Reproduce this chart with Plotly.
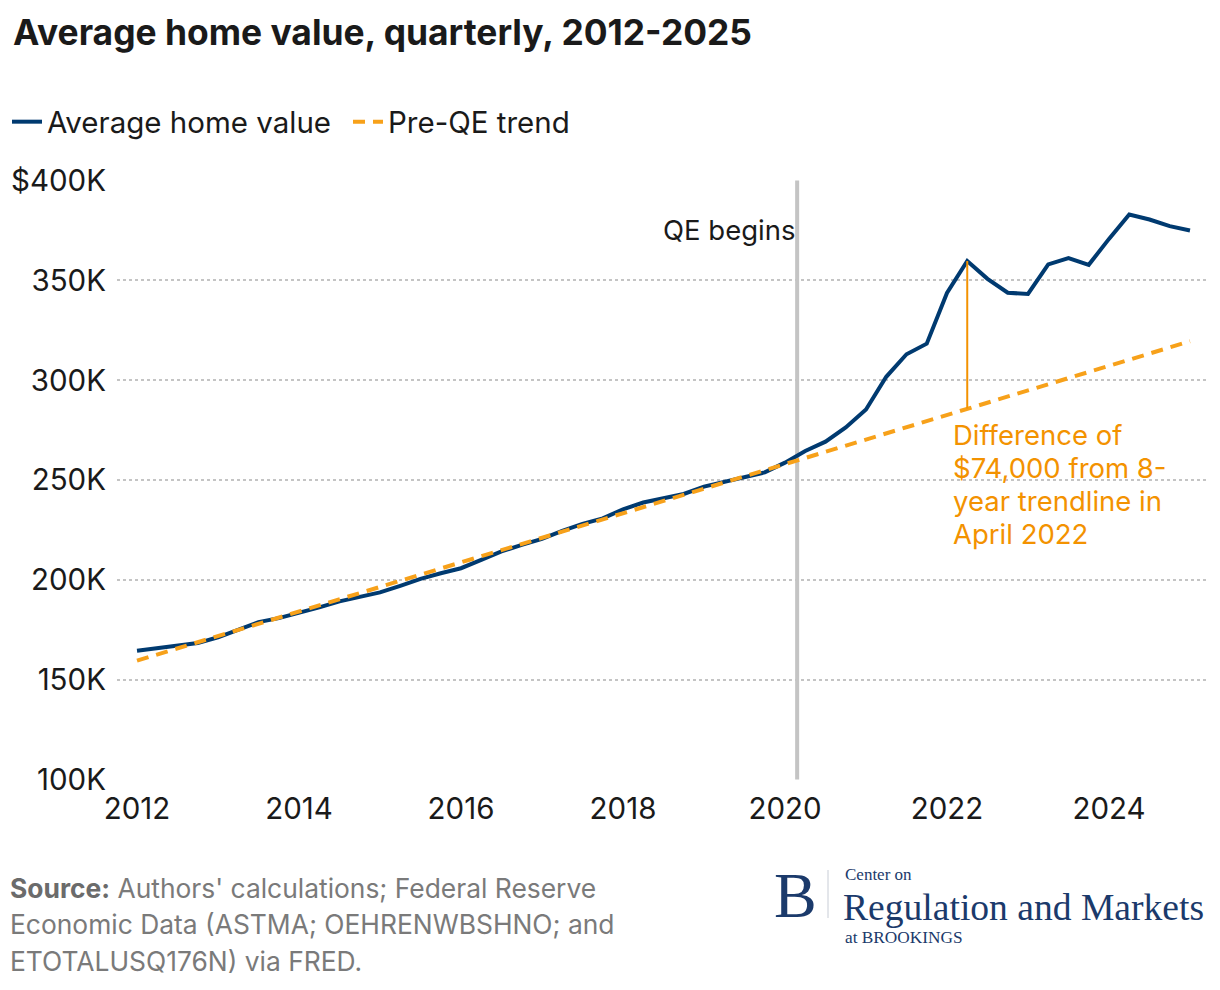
import plotly.graph_objects as go

# Quarterly dates (decimal years) 2012Q1 .. 2025Q1
quarters = [2012 + 0.25 * i for i in range(53)]

# Average home value, thousands of dollars
home_value = [
    164.5, 165.7, 167.0, 168.3, 171.2, 175.0, 178.8, 180.8,
    183.3, 186.2, 189.2, 191.2, 193.7, 197.0, 200.5, 203.3,
    205.8, 210.0, 214.2, 217.5, 220.5, 224.5, 228.0, 230.8,
    235.3, 238.7, 240.8, 243.0, 246.7, 249.2, 251.3, 253.8,
    258.7, 264.5, 269.2, 276.3, 285.3, 301.7, 313.0, 318.3,
    343.7, 359.7, 350.8, 343.8, 343.2, 358.0, 361.2, 357.8,
    370.8, 383.0, 380.5, 377.2, 375.0,
]

# Pre-QE linear trend endpoints (thousands)
trend_x = [2012.0, 2025.0]
trend_y = [159.5, 319.5]

y_ticks = [100, 150, 200, 250, 300, 350, 400]
y_labels = ["100K", "150K", "200K", "250K", "300K", "350K", "$400K"]
x_ticks = [2012, 2014, 2016, 2018, 2020, 2022, 2024]

qe_start = 2020.15
gap_x = 2022.25
gap_top = 359.7
gap_bottom = 285.8

diff_lines = ["Difference of", "$74,000 from 8-", "year trendline in", "April 2022"]

NAVY = "#003a70"
ORANGE = "#f7a11a"
ORANGE_TXT = "#f39200"
FONT = "Inter"


def px_x(px):
    return (px - 117) / 1090


def px_y(py):
    return (780 - py) / 600


fig = go.Figure()
fig.add_trace(go.Scatter(
    x=quarters, y=home_value, mode="lines", name="Average home value",
    line=dict(color=NAVY, width=4),
))
fig.add_trace(go.Scatter(
    x=trend_x, y=trend_y, mode="lines", name="Pre-QE trend",
    line=dict(color=ORANGE, width=4, dash="12px,8px"),
))

fig.add_shape(type="line", x0=qe_start, x1=qe_start, y0=100, y1=400,
              xref="x", yref="y", line=dict(color="#c4c4c4", width=4), layer="below")
fig.add_shape(type="line", x0=gap_x, x1=gap_x, y0=gap_bottom, y1=gap_top,
              xref="x", yref="y", line=dict(color=ORANGE_TXT, width=2))

annotations = [
    dict(x=px_x(11), y=px_y(33), xref="paper", yref="paper",
         text="<b>Average home value, quarterly, 2012-2025</b>",
         showarrow=False, xanchor="left", yanchor="middle",
         font=dict(family=FONT, size=35.4, color="#1a1a1a")),
    dict(x=qe_start, y=375.5, xref="x", yref="y", text="QE begins", showarrow=False,
         xanchor="right", yanchor="middle", font=dict(family=FONT, size=27.5, color="#1a1a1a")),
]

for i, s in enumerate(diff_lines):
    annotations.append(dict(x=px_x(951), y=px_y(435 + 33 * i), xref="paper", yref="paper",
                            text=s, showarrow=False, xanchor="left", yanchor="middle",
                            font=dict(family=FONT, size=27.5, color=ORANGE_TXT)))

src_lines = [
    "<b style='color:#6b6b6b'>Source:</b> Authors' calculations; Federal Reserve",
    "Economic Data (ASTMA; OEHRENWBSHNO; and",
    "ETOTALUSQ176N) via FRED.",
]
for i, s in enumerate(src_lines):
    annotations.append(dict(x=px_x(8), y=px_y(888 + 36.5 * i), xref="paper", yref="paper",
                            text=s, showarrow=False, xanchor="left", yanchor="middle",
                            font=dict(family=FONT, size=26.4, color="#7a7a7a")))

LOGO = "#1b3a6b"
SERIF = "Liberation Serif"
annotations += [
    dict(x=px_x(772), y=px_y(895), xref="paper", yref="paper", text="B", showarrow=False,
         xanchor="left", yanchor="middle", font=dict(family=SERIF, size=64, color=LOGO)),
    dict(x=px_x(843), y=px_y(875), xref="paper", yref="paper", text="Center on", showarrow=False,
         xanchor="left", yanchor="middle", font=dict(family=SERIF, size=17, color=LOGO)),
    dict(x=px_x(841), y=px_y(907), xref="paper", yref="paper", text="Regulation and Markets",
         showarrow=False, xanchor="left", yanchor="middle",
         font=dict(family=SERIF, size=37.6, color=LOGO)),
    dict(x=px_x(843), y=px_y(937), xref="paper", yref="paper", text="at BROOKINGS", showarrow=False,
         xanchor="left", yanchor="middle", font=dict(family=SERIF, size=17.3, color=LOGO)),
]
fig.add_shape(type="line", x0=px_x(828), x1=px_x(828), y0=px_y(870), y1=px_y(918),
              xref="paper", yref="paper", line=dict(color="#c8cdd6", width=1))

fig.update_layout(
    width=1220, height=990,
    margin=dict(l=117, r=13, t=180, b=210),
    paper_bgcolor="white", plot_bgcolor="white",
    font=dict(family=FONT, size=24, color="#1a1a1a"),
    showlegend=True,
    legend=dict(orientation="h", xref="container", yref="container", x=7 / 1220, y=1 - 122 / 990,
                xanchor="left", yanchor="middle", font=dict(family=FONT, size=29.5, color="#1a1a1a"),
                itemwidth=30, entrywidth=296, tracegroupgap=0, bgcolor="rgba(0,0,0,0)"),
    annotations=annotations,
    xaxis=dict(range=[2011.753, 2025.21], tickvals=x_ticks, ticktext=[str(v) for v in x_ticks],
               showgrid=False, zeroline=False, showline=False, ticks="",
               tickfont=dict(family=FONT, size=29.5, color="#1a1a1a"), ticklabelstandoff=8),
    yaxis=dict(range=[99.7, 400.3], tickvals=y_ticks, ticktext=y_labels,
               showgrid=True, gridcolor="#c4c4c4", gridwidth=2, griddash="dot",
               zeroline=False, showline=False, ticks="",
               tickfont=dict(family=FONT, size=29.5, color="#1a1a1a"), ticklabelstandoff=10),
)

fig.write_html("out.html", post_script="document.body.style.margin='0';",
               config={"displayModeBar": False})
